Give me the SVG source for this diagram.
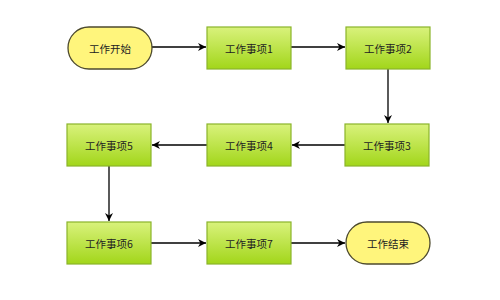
<svg xmlns="http://www.w3.org/2000/svg" width="500" height="300" viewBox="0 0 500 300">
<defs>
<linearGradient id="g" x1="0" y1="0" x2="0" y2="1">
<stop offset="0" stop-color="#d9f27c"/>
<stop offset="1" stop-color="#a2d61a"/>
</linearGradient>
<marker id="arr" viewBox="0 0 10 10" refX="10" refY="5" markerWidth="8" markerHeight="8" markerUnits="userSpaceOnUse" orient="auto">
<path d="M0,0 L10,5 L0,10 L3,5 Z" fill="#000"/>
</marker>
<style>
.box{fill:url(#g);stroke:#8ab42a;stroke-width:1.2}
.term{fill:#fff57c;stroke:#4d4a2e;stroke-width:1.3}
.t{font-family:"Noto Sans CJK SC","Noto Sans",sans-serif;font-size:10.5px;fill:#222;text-anchor:middle;dominant-baseline:central}
.c{stroke:#000;stroke-width:1.3;fill:none;marker-end:url(#arr)}
</style>
</defs>
<rect width="500" height="300" fill="#fff"/>
<g id="connectors">
<line class="c" x1="152" y1="47" x2="206" y2="47"/>
<line class="c" x1="291" y1="47" x2="345" y2="47"/>
<line class="c" x1="388" y1="69" x2="388" y2="123"/>
<line class="c" x1="345" y1="145" x2="292" y2="145"/>
<line class="c" x1="207" y1="145" x2="152" y2="145"/>
<line class="c" x1="109" y1="166" x2="109" y2="221"/>
<line class="c" x1="151" y1="243" x2="206" y2="243"/>
<line class="c" x1="291" y1="243" x2="345" y2="243"/>
</g>
<g id="start"><rect class="term" x="68" y="27" width="84" height="42" rx="21"/><text class="t" x="110" y="48">工作开始</text></g>
<g id="task1"><rect class="box" x="207" y="27" width="84" height="42"/><text class="t" x="249" y="48">工作事项1</text></g>
<g id="task2"><rect class="box" x="346" y="27" width="84" height="42"/><text class="t" x="388" y="48">工作事项2</text></g>
<g id="task3"><rect class="box" x="345" y="124" width="84" height="42"/><text class="t" x="387" y="145">工作事项3</text></g>
<g id="task4"><rect class="box" x="207" y="124" width="84" height="42"/><text class="t" x="249" y="145">工作事项4</text></g>
<g id="task5"><rect class="box" x="67" y="124" width="84" height="42"/><text class="t" x="109" y="145">工作事项5</text></g>
<g id="task6"><rect class="box" x="67" y="222" width="84" height="42"/><text class="t" x="109" y="243">工作事项6</text></g>
<g id="task7"><rect class="box" x="207" y="222" width="84" height="42"/><text class="t" x="249" y="243">工作事项7</text></g>
<g id="end"><rect class="term" x="346" y="222" width="84" height="42" rx="21"/><text class="t" x="388" y="243">工作结束</text></g>
</svg>
